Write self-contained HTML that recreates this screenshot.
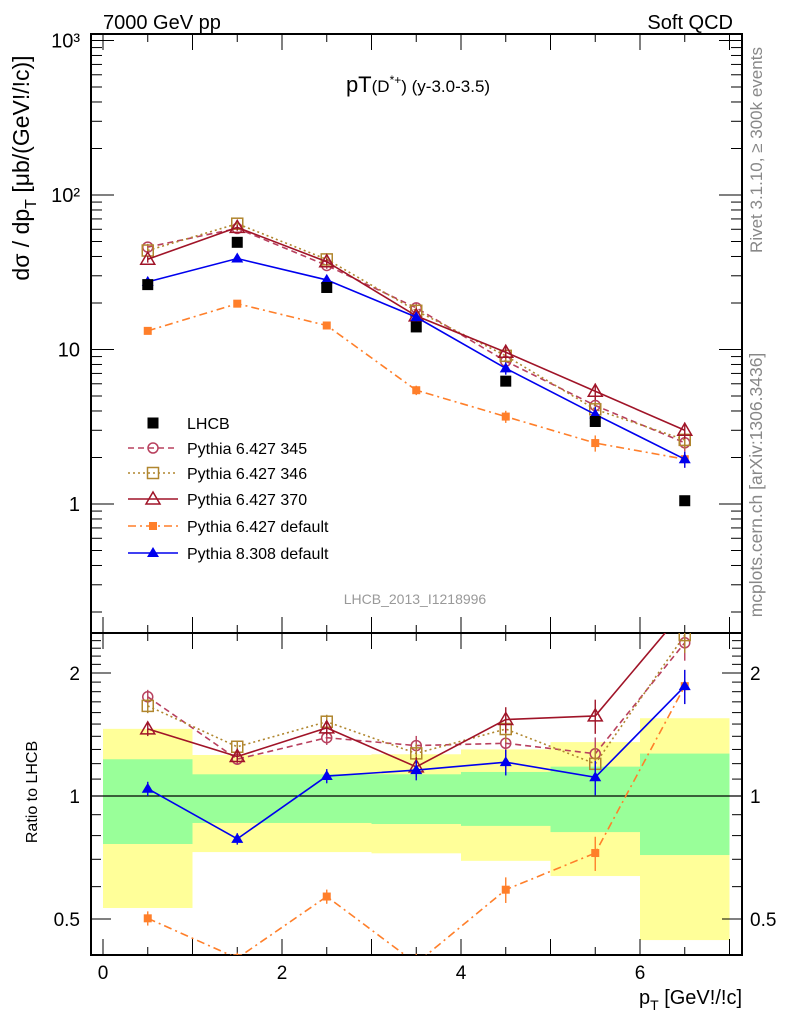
<!DOCTYPE html>
<html><head><meta charset="utf-8"><style>
html,body{margin:0;padding:0;background:#fff;}
svg{display:block;font-family:"Liberation Sans",sans-serif;}
</style></head><body>
<svg id="chart" width="786" height="1024" viewBox="0 0 786 1024" xmlns="http://www.w3.org/2000/svg">
<g id="bands"></g>
<g id="axes"></g>
<g id="series"></g>
<g id="legend"></g>
<text x="103" y="29" font-size="20">7000 GeV pp</text>
<text x="733" y="29" font-size="20" text-anchor="end">Soft QCD</text>
<text x="418" y="92" font-size="22" text-anchor="middle">pT<tspan font-size="17">(D</tspan><tspan font-size="12" dy="-8">*+</tspan><tspan font-size="17" dy="8">) (y-3.0-3.5)</tspan></text>
<text x="415" y="604" font-size="14" fill="#999" text-anchor="middle">LHCB_2013_I1218996</text>
<text transform="translate(762,150) rotate(-90)" font-size="17" fill="#888" text-anchor="middle">Rivet 3.1.10, ≥ 300k events</text>
<text transform="translate(762,485) rotate(-90)" font-size="17.5" fill="#888" text-anchor="middle">mcplots.cern.ch [arXiv:1306.3436]</text>
<text transform="translate(29,168) rotate(-90)" font-size="23" text-anchor="middle">dσ / dp<tspan font-size="16" dy="7">T</tspan><tspan dy="-7"> [μb/(GeV!/!c)]</tspan></text>
<text transform="translate(37,792) rotate(-90)" font-size="16" text-anchor="middle">Ratio to LHCB</text>
<text x="742" y="1004" font-size="20" text-anchor="end">p<tspan font-size="14" dy="6">T</tspan><tspan dy="-6"> [GeV!/!c]</tspan></text>
</svg>
<script>
const xCenters=[0.5,1.5,2.5,3.5,4.5,5.5,6.5];
const binEdges=[0,1,2,3,4,5,6,7];
const lhcb=[26.3,49.4,25.2,14.0,6.24,3.42,1.05];
const p345=[46,60.8,35,18.6,8.4,4.34,2.49];
const p346=[43.7,65.2,38.3,17.8,9.1,4.1,2.6];
const p370=[38.4,61.7,37.0,16.5,9.6,5.37,3.0];
const pdef=[13.2,19.8,14.3,5.45,3.68,2.48,1.95];
const p8=[27.4,38.8,28.2,16.2,7.55,3.80,1.95];
const errFrac=[0.05,0.04,0.05,0.07,0.09,0.12,0.12];
const yellowHi=[1.46,1.26,1.26,1.265,1.30,1.355,1.55];
const yellowLo=[0.532,0.729,0.729,0.724,0.694,0.637,0.444];
const greenHi=[1.23,1.13,1.13,1.13,1.145,1.18,1.27];
const greenLo=[0.763,0.859,0.859,0.854,0.845,0.816,0.717];
const xTicks=[0,2,4,6];
const mainTicks=[1,10,100,1000];
const mainTickLabels=["1","10","10²","10³"];
const ratioTicks=[0.5,1,2];
const ratioTickLabels=["0.5","1","2"];

const NS="http://www.w3.org/2000/svg";
const L=91,R=742,MT=34,MB=633,RT=633,RB=955;
const X=v=>103+v*89.5;
const Y=v=>504-154.5*Math.log10(v);
const YR=v=>796-123*Math.log2(v);
function mk(tag,attrs,parent){const e=document.createElementNS(NS,tag);for(const k in attrs)e.setAttribute(k,attrs[k]);parent.appendChild(e);return e;}
const bands=document.getElementById('bands'),axes=document.getElementById('axes'),ser=document.getElementById('series'),leg=document.getElementById('legend');

for(let i=0;i<xCenters.length;i++){
  const x0=X(binEdges[i]),x1=X(binEdges[i+1]);
  let r=mk('rect',{x:x0,y:YR(yellowHi[i]),width:x1-x0,height:YR(yellowLo[i])-YR(yellowHi[i]),fill:'#ffff99'},bands);
  
  
  r=mk('rect',{x:x0,y:YR(greenHi[i]),width:x1-x0,height:YR(greenLo[i])-YR(greenHi[i]),fill:'#99ff99'},bands);
  
  
}
mk('rect',{x:L,y:MT,width:R-L,height:MB-MT,fill:'none',stroke:'#000','stroke-width':2},axes);
mk('rect',{x:L,y:RT,width:R-L,height:RB-RT,fill:'none',stroke:'#000','stroke-width':2},axes);
mk('line',{x1:L,x2:R,y1:YR(1),y2:YR(1),stroke:'#000','stroke-width':1.2},axes);
for(let v=0;v<=7.01;v+=0.5){
  const x=X(v),maj=Math.abs(v-Math.round(v))<0.01;const len=maj?16:8;
  mk('line',{x1:x,x2:x,y1:MT,y2:MT+len,stroke:'#000'},axes);
  mk('line',{x1:x,x2:x,y1:MB,y2:MB-len,stroke:'#000'},axes);
  mk('line',{x1:x,x2:x,y1:RB,y2:RB-len,stroke:'#000'},axes);
  mk('line',{x1:x,x2:x,y1:RT,y2:RT+len,stroke:'#000'},axes);
}
xTicks.forEach(v=>{const t=mk('text',{x:X(v),y:979,'font-size':19,'text-anchor':'middle'},axes);t.textContent=v;
  
  });
for(let d=-1;d<=3;d++){for(let m=1;m<10;m++){const v=m*Math.pow(10,d);const y=Y(v);if(y<MT||y>MB)continue;const len=m==1?23:11;
  mk('line',{x1:L,x2:L+len,y1:y,y2:y,stroke:'#000'},axes);mk('line',{x1:R,x2:R-len,y1:y,y2:y,stroke:'#000'},axes);}}
mainTicks.forEach((v,i)=>{const t=mk('text',{x:80,y:Y(v)+7,'font-size':20,'text-anchor':'end'},axes);t.textContent=mainTickLabels[i];
  
  });
for(let v=0.4;v<=2.6;v+=0.1){const y=YR(v);if(y<RT||y>RB)continue;const maj=[0.5,1,2].some(a=>Math.abs(a-v)<0.01);const len=maj?20:10;
  mk('line',{x1:L,x2:L+len,y1:y,y2:y,stroke:'#000'},axes);mk('line',{x1:R,x2:R-len,y1:y,y2:y,stroke:'#000'},axes);}
ratioTicks.forEach((v,i)=>{let t=mk('text',{x:80,y:YR(v)+7,'font-size':19,'text-anchor':'end'},axes);t.textContent=ratioTickLabels[i];
  
  
  t=mk('text',{x:750,y:YR(v)+7,'font-size':19},axes);t.textContent=ratioTickLabels[i];
  
  });

const styles=[
 {name:'pythia-6427-345',label:'Pythia 6.427 345',data:p345,color:'#b8405e',dash:'6,4',marker:'circle'},
 {name:'pythia-6427-346',label:'Pythia 6.427 346',data:p346,color:'#b0862e',dash:'2,3',marker:'square'},
 {name:'pythia-6427-370',label:'Pythia 6.427 370',data:p370,color:'#a01428',dash:'',marker:'triangle'},
 {name:'pythia-6427-default',label:'Pythia 6.427 default',data:pdef,color:'#ff7f2a',dash:'8,4,2,4',marker:'fsquare'},
 {name:'pythia-8308-default',label:'Pythia 8.308 default',data:p8,color:'#0000ee',dash:'',marker:'ftriangle'}];

function marker(g,type,x,y,c){
  if(type==='circle')return mk('circle',{cx:x,cy:y,r:5,fill:'none',stroke:c,'stroke-width':1.5},g);
  if(type==='square')return mk('rect',{x:x-5.5,y:y-5.5,width:11,height:11,fill:'none',stroke:c,'stroke-width':1.5},g);
  if(type==='triangle')return mk('path',{d:`M${x},${y-7}L${x+7},${y+5}L${x-7},${y+5}Z`,fill:'none',stroke:c,'stroke-width':1.5},g);
  if(type==='fsquare')return mk('rect',{x:x-4,y:y-4,width:8,height:8,fill:c},g);
  if(type==='ftriangle')return mk('path',{d:`M${x},${y-6}L${x+6},${y+4}L${x-6},${y+4}Z`,fill:c},g);
  if(type==='black')return mk('rect',{x:x-5.5,y:y-5.5,width:11,height:11,fill:'#000'},g);
}
function clipPath(id,y0,y1){const cp=mk('clipPath',{id:id},ser);mk('rect',{x:L,y:y0,width:R-L,height:y1-y0},cp);}
clipPath('cm',MT,MB);clipPath('cr',RT,RB);

styles.forEach(s=>{
  const g=mk('g',{'clip-path':'url(#cm)'},ser);
  
  
  const pts=s.data.map((v,i)=>[X(xCenters[i]),Y(v)]);
  mk('polyline',{points:pts.map(p=>p.join(',')).join(' '),fill:'none',stroke:s.color,'stroke-width':1.6,'stroke-dasharray':s.dash},g);
  s.data.forEach((v,i)=>{const x=X(xCenters[i]);const e=errFrac[i]*v;
    mk('line',{x1:x,x2:x,y1:Y(v+e),y2:Y(v-e),stroke:s.color,'stroke-width':1.4},g);
    const m=marker(g,s.marker,x,Y(v),s.color);
    
    });
  const gr=mk('g',{'clip-path':'url(#cr)'},ser);
  
  
  const rv=s.data.map((v,i)=>v/lhcb[i]);
  mk('polyline',{points:rv.map((r,i)=>X(xCenters[i])+','+YR(r)).join(' '),fill:'none',stroke:s.color,'stroke-width':1.6,'stroke-dasharray':s.dash},gr);
  rv.forEach((r,i)=>{const x=X(xCenters[i]);const e=errFrac[i]*r*0.8;
    mk('line',{x1:x,x2:x,y1:YR(r+e),y2:YR(Math.max(r-e,0.05)),stroke:s.color,'stroke-width':1.4},gr);
    const m=marker(gr,s.marker,x,YR(r),s.color);
    
    });
});
lhcb.forEach((v,i)=>{const m=marker(ser,'black',X(xCenters[i]),Y(v),'#000');
  
  });

const legRows=[423,448,473,499,526,553];
let t=mk('text',{x:187,y:legRows[0]+6,'font-size':16},leg);t.textContent='LHCB';


marker(leg,'black',153,legRows[0],'#000');
styles.forEach((s,k)=>{const y=legRows[k+1];
  mk('line',{x1:128,x2:178,y1:y,y2:y,stroke:s.color,'stroke-width':1.6,'stroke-dasharray':s.dash},leg);
  marker(leg,s.marker,153,y,s.color);
  const tx=mk('text',{x:187,y:y+6,'font-size':16},leg);tx.textContent=s.label;
  
  });
</script>
</body></html>
